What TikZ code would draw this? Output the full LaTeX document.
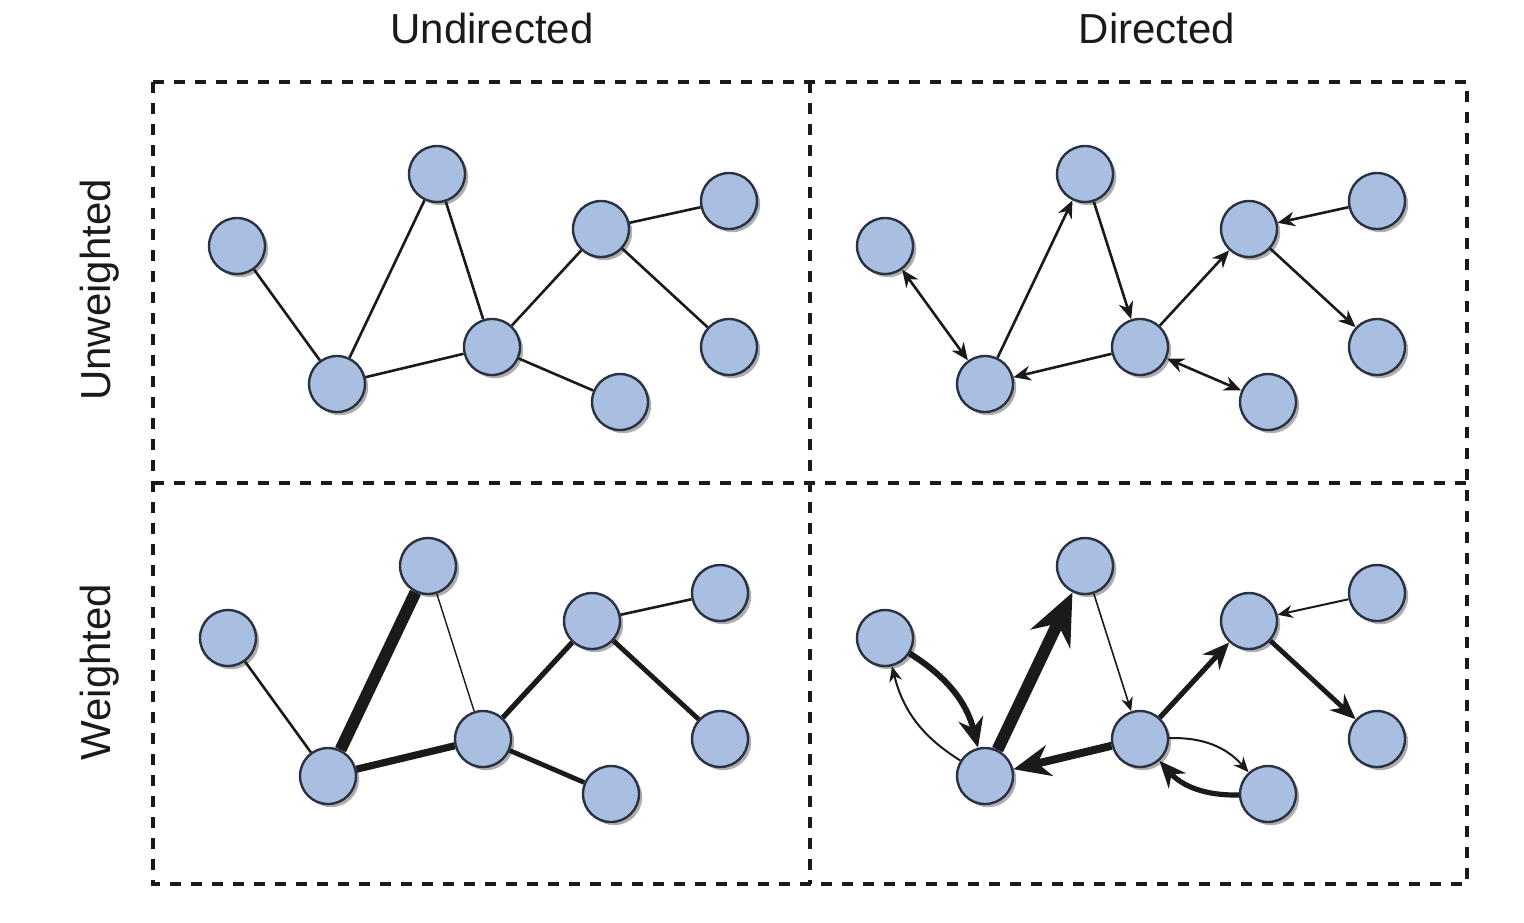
\documentclass[tikz,border=0pt]{standalone}
\usepackage{fontspec}
\setmainfont{Liberation Sans}
\usetikzlibrary{arrows.meta, shadows}
\definecolor{nodeblue}{HTML}{A9BFE1}
\definecolor{rimgray}{HTML}{2A3140}
\definecolor{inkgray}{HTML}{1A1A1A}

\begin{document}
\begin{tikzpicture}[x=0.5pt, y=-0.5pt, >={Stealth[length=4pt 3.6, width'=0pt 0.85]},
    vertex/.style={circle, draw=rimgray, line width=1.2pt, fill=nodeblue, minimum size=28pt, inner sep=0pt,
        drop shadow={shadow xshift=1.6pt, shadow yshift=-1.6pt, opacity=0.45, fill=black!70}},
    frame/.style={line width=1.6pt, draw=inkgray, dash pattern=on 5.5pt off 5pt},
    heading/.style={font=\fontsize{21}{24}\selectfont, text=inkgray},
    edge/.style={line width=1.3pt, draw=inkgray}]
\useasboundingbox (0,0) rectangle (1524,922);

% Frame
\draw[frame] (153,82) rectangle (1467,884);
\draw[frame] (810,82) -- (810,884);
\draw[frame] (153,483) -- (1467,483);

% Headings
\node[heading] (undir) at (492,28) {Undirected};
\node[heading] (dir) at (1157,28) {Directed};
\node[heading, rotate=90] (unw) at (100,290) {Unweighted};
\node[heading, rotate=90] (wtd) at (100,672) {Weighted};

% Same eight vertices in every panel
\foreach \p/\dx/\dy in {uu/0/0, ud/648/0, wu/-9/392, wd/648/392} {
  \foreach \n/\x/\y in {a/237/246, b/337/384, c/437/174, d/492/347, e/601/229, f/729/201, g/729/347, h/620/402}
    \node[vertex] (\p-\n) at (\x+\dx,\y+\dy) {};
}

% Unweighted, undirected
\draw[edge] (uu-a) -- (uu-b);
\draw[edge] (uu-b) -- (uu-c);
\draw[edge] (uu-c) -- (uu-d);
\draw[edge] (uu-b) -- (uu-d);
\draw[edge] (uu-d) -- (uu-e);
\draw[edge] (uu-e) -- (uu-f);
\draw[edge] (uu-e) -- (uu-g);
\draw[edge] (uu-d) -- (uu-h);

% Unweighted, directed
\draw[edge, <->] (ud-a) -- (ud-b);
\draw[edge, ->] (ud-b) -- (ud-c);
\draw[edge, ->] (ud-c) -- (ud-d);
\draw[edge, ->] (ud-d) -- (ud-b);
\draw[edge, ->] (ud-d) -- (ud-e);
\draw[edge, ->] (ud-f) -- (ud-e);
\draw[edge, ->] (ud-e) -- (ud-g);
\draw[edge, <->] (ud-d) -- (ud-h);

% Weighted, undirected
\draw[edge] (wu-a) -- (wu-b);
\draw[edge, line width=6pt] (wu-b) -- (wu-c);
\draw[edge, line width=0.7pt] (wu-c) -- (wu-d);
\draw[edge, line width=3.6pt] (wu-b) -- (wu-d);
\draw[edge, line width=2.6pt] (wu-d) -- (wu-e);
\draw[edge] (wu-e) -- (wu-f);
\draw[edge, line width=2.4pt] (wu-e) -- (wu-g);
\draw[edge, line width=2.4pt] (wu-d) -- (wu-h);

% Weighted, directed
\draw[edge, ->, line width=3pt] (wd-a) to[bend left=22] (wd-b);
\draw[edge, ->, line width=1pt] (wd-b) to[bend left=22] (wd-a);
\draw[edge, ->, line width=6pt] (wd-b) -- (wd-c);
\draw[edge, ->, line width=0.8pt] (wd-c) -- (wd-d);
\draw[edge, ->, line width=4pt] (wd-d) -- (wd-b);
\draw[edge, ->, line width=2.6pt] (wd-d) -- (wd-e);
\draw[edge, ->, line width=1pt] (wd-f) -- (wd-e);
\draw[edge, ->, line width=2.4pt] (wd-e) -- (wd-g);
\draw[edge, ->, line width=1pt] (wd-d) to[bend left=25] (wd-h);
\draw[edge, ->, line width=2.6pt] (wd-h) to[bend left=25] (wd-d);
\end{tikzpicture}
\end{document}
